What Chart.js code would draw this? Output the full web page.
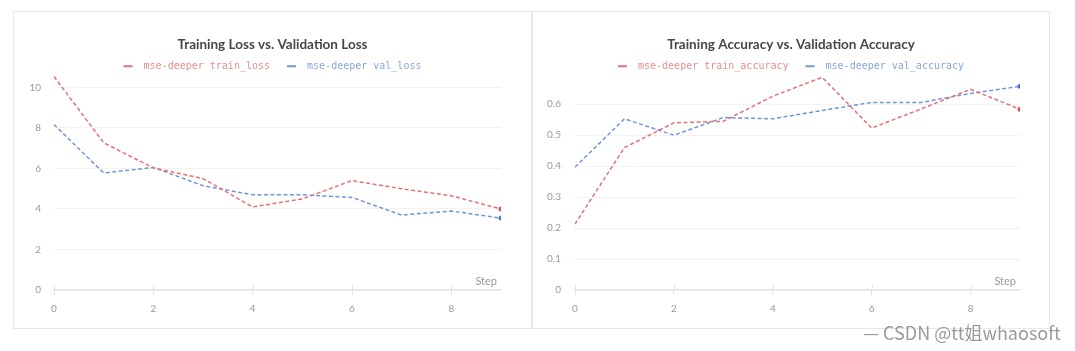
<!DOCTYPE html>
<html>
<head>
<meta charset="utf-8">
<script src="https://cdn.jsdelivr.net/npm/chart.js@4"></script>
<style>
  body { margin: 0; width: 1075px; height: 351px; background: #fff; position: relative; overflow: hidden; }
  .panel { position: absolute; top: 11px; height: 316px; border: 1px solid #e9e9e9; }
  .panel canvas { position: absolute; left: 0; top: 0; }
  #wm { position: absolute; left: 863px; top: 319px; font: 18px "Noto Sans CJK SC", sans-serif; color: #9a9a9a; white-space: nowrap; }
</style>
</head>
<body>
<div class="panel" style="left:13px; width:517px;"><canvas id="lossChart" width="517" height="316"></canvas></div>
<div class="panel" style="left:532px; width:516px;"><canvas id="accChart" width="516" height="316"></canvas></div>
<div id="wm">— CSDN @tt姐whaosoft</div>
<script>
// steps on the x axis
let steps = [0, 1, 2, 3, 4, 5, 6, 7, 8, 9];

// loss panel
let trainLoss = [10.54, 7.27, 6.03, 5.5, 4.1, 4.5, 5.4, 5.0, 4.65, 4.0];
let valLoss = [8.17, 5.78, 6.05, 5.15, 4.7, 4.7, 4.57, 3.7, 3.9, 3.55];
let lossTicks = [0, 2, 4, 6, 8, 10];

// accuracy panel
let trainAcc = [0.213, 0.46, 0.54, 0.545, 0.626, 0.687, 0.523, 0.585, 0.648, 0.584];
let valAcc = [0.397, 0.553, 0.50, 0.557, 0.553, 0.58, 0.606, 0.606, 0.635, 0.658];
let accTicks = [0, 0.1, 0.2, 0.3, 0.4, 0.5, 0.6];

let stepTicks = [0, 2, 4, 6, 8];

const RED = '#e27474';
const BLUE = '#7095d8';

function toPoints(arr) {
    return steps.map((s, i) => ({ x: s, y: arr[i] }));
}

// "Step" caption and the little tick marks that cross the x axis
const stepLabel = {
    id: 'stepLabel',
    afterDraw(chart) {
        let ctx = chart.ctx;
        let a = chart.chartArea;
        let xs = chart.scales.x;
        ctx.save();
        ctx.strokeStyle = '#e2e2e2';
        ctx.lineWidth = 1;
        stepTicks.forEach(t => {
            let px = Math.round(xs.getPixelForValue(t)) + 0.5;
            ctx.beginPath();
            ctx.moveTo(px, a.bottom - 5);
            ctx.lineTo(px, a.bottom);
            ctx.stroke();
        });
        ctx.font = '11px Lato, sans-serif';
        ctx.fillStyle = '#9a9a9a';
        ctx.textAlign = 'right';
        ctx.textBaseline = 'middle';
        ctx.fillText('Step', a.right - 4, a.bottom - 9);
        ctx.restore();
    }
};

// the legend sits close to the plot, so drop the extra space chart.js keeps under it
const tightLegend = {
    id: 'tightLegend',
    afterInit(chart) {
        let fit = chart.legend.fit;
        chart.legend.fit = function () {
            fit.call(this);
            this.height -= 8;
        };
    }
};

function makeChart(id, title, names, series, yMax, yTicks, yWidth, yPad, padRight) {
    let colors = [RED, BLUE];
    let textColors = ['#e88e8e', '#86a6de'];
    let dotColors = ['#d9504f', '#4876c9'];
    let last = steps.length - 1;

    return new Chart(document.getElementById(id), {
        type: 'line',
        data: {
            datasets: series.map((s, k) => ({
                label: names[k],
                data: toPoints(s),
                borderColor: colors[k],
                backgroundColor: dotColors[k],
                borderWidth: 1.5,
                borderDash: [4, 2.5],
                pointRadius: c => c.dataIndex === last ? 2.5 : 0,
                pointBorderWidth: 0,
                tension: 0
            }))
        },
        options: {
            responsive: false,
            animation: false,
            events: [],
            layout: { padding: { left: 0, right: 0, top: 0, bottom: 5 } },
            plugins: {
                title: {
                    display: true,
                    text: title,
                    color: '#474747',
                    font: { family: 'Lato, sans-serif', size: 13.5, weight: 'bold' },
                    padding: { top: 24.7, bottom: 3.4 }
                },
                legend: {
                    display: true,
                    labels: {
                        font: { family: '"DejaVu Sans Mono", monospace', size: 10 },
                        boxWidth: 9,
                        boxHeight: 2,
                        padding: 5,
                        generateLabels: chart => chart.data.datasets.map((d, k) => ({
                            text: ' ' + d.label + (k < names.length - 1 ? '  ' : ''),
                            fillStyle: colors[k],
                            strokeStyle: colors[k],
                            lineWidth: 0,
                            fontColor: textColors[k],
                            datasetIndex: k
                        }))
                    }
                },
                tooltip: { enabled: false }
            },
            scales: {
                x: {
                    type: 'linear',
                    min: 0,
                    max: 9,
                    afterBuildTicks: s => { s.ticks = stepTicks.map(v => ({ value: v })); },
                    grid: { drawOnChartArea: false, drawTicks: true, tickLength: 5, color: '#e2e2e2' },
                    border: { display: true, color: '#e4e4e4', width: 1.5 },
                    ticks: { color: '#9a9a9a', padding: 8, font: { family: 'Lato, sans-serif', size: 10 } }
                },
                y: {
                    min: 0,
                    max: yMax,
                    afterBuildTicks: s => { s.ticks = yTicks.map(v => ({ value: v })); },
                    afterFit: s => { s.width = yWidth; },
                    grid: { color: '#f3f3f3', drawTicks: false },
                    border: { display: false },
                    ticks: { color: '#9a9a9a', padding: yPad, font: { family: 'Lato, sans-serif', size: 10 } }
                },
                // empty axis on the right keeps the title and legend centred on the panel
                yRight: {
                    position: 'right',
                    afterFit: s => { s.width = padRight; },
                    grid: { display: false },
                    border: { display: false },
                    ticks: { display: false }
                }
            }
        },
        plugins: [stepLabel, tightLegend]
    });
}

makeChart('lossChart', 'Training Loss vs. Validation Loss',
    ['mse-deeper train_loss', 'mse-deeper val_loss'],
    [trainLoss, valLoss], 10.7, lossTicks, 40, 13, 30);

makeChart('accChart', 'Training Accuracy vs. Validation Accuracy',
    ['mse-deeper train_accuracy', 'mse-deeper val_accuracy'],
    [trainAcc, valAcc], 0.7, accTicks, 42, 14, 29);
</script>
</body>
</html>
